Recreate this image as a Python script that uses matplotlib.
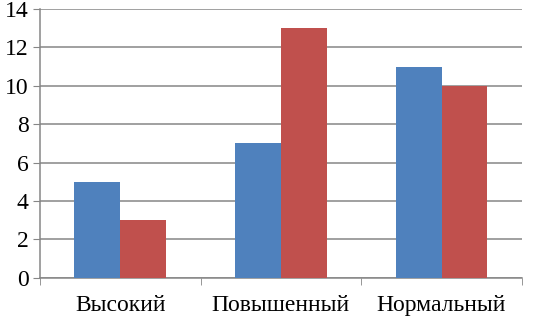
import numpy as np
import matplotlib.pyplot as plt

categories = ["Высокий", "Повышенный", "Нормальный"]
series_blue = [5, 7, 11]
series_red = [3, 13, 10]
y_ticks = [0, 2, 4, 6, 8, 10, 12, 14]

plt.rcParams['font.family'] = 'serif'
plt.rcParams['font.serif'] = ['Liberation Serif', 'DejaVu Serif']

fig = plt.figure(figsize=(5.33, 3.18), dpi=100)
ax = fig.add_axes([0.075, 0.126, 0.904, 0.846])

x = np.arange(len(categories))
w = 0.286
ax.bar(x - w / 2, series_blue, w, color="#4F81BD", zorder=3)
ax.bar(x + w / 2, series_red, w, color="#C0504D", zorder=3)

ax.set_xlim(-0.5, len(categories) - 0.5)
ax.set_ylim(0, 14)
ax.set_yticks(y_ticks)
ax.yaxis.grid(True, color="#868686", linewidth=1.1, zorder=0)

ax.set_xticks(x)
ax.set_xticklabels(categories, fontsize=17)
ax.set_xticks(np.arange(len(categories) + 1) - 0.5, minor=True)
ax.tick_params(axis="x", which="major", length=0, pad=12.5)
ax.tick_params(axis="x", which="minor", length=5, color="#868686", direction="out")
ax.tick_params(axis="y", length=5, color="#868686", labelsize=17, pad=3)

for s in ["top", "right"]:
    ax.spines[s].set_visible(False)
for s in ["left", "bottom"]:
    ax.spines[s].set_color("#868686")
    ax.spines[s].set_linewidth(1.1)

fig.savefig("out.png", dpi=100)
